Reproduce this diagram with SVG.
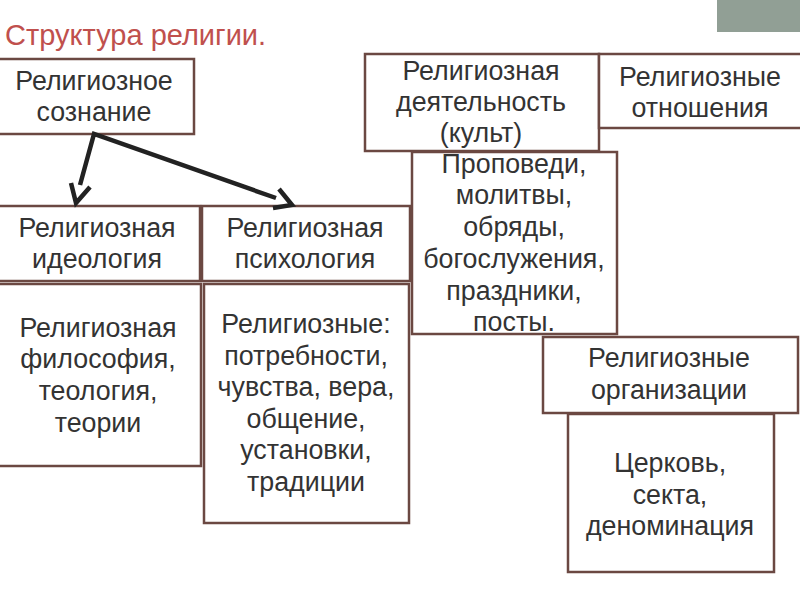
<svg xmlns="http://www.w3.org/2000/svg" width="800" height="600" viewBox="0 0 800 600">
<style>
.box{fill:#fff;stroke:#6b4842;stroke-width:2.5}
.t{font-family:"Liberation Sans",Arial,sans-serif;font-size:26.8px;fill:#333;text-anchor:middle}
.title{font-family:"Liberation Sans",Arial,sans-serif;font-size:29px;fill:#c0504d}
.c{fill:none;stroke:#222;stroke-width:4.5;stroke-linecap:butt;stroke-linejoin:miter}
</style>
<rect width="800" height="600" fill="#fff"/>
<rect x="717" y="0" width="83" height="32" fill="#919f95"/>
<text class="title" x="5" y="45">Структура религии.</text>

<g id="n-soznanie">
<rect class="box" x="-2" y="59" width="196" height="75"/>
<text class="t" x="94" y="90">Религиозное</text>
<text class="t" x="94" y="121">сознание</text>
</g>
<g id="n-ideologia">
<rect class="box" x="-2" y="206" width="202" height="75"/>
<text class="t" x="97" y="237">Религиозная</text>
<text class="t" x="97" y="268">идеология</text>
</g>
<g id="n-psihologia">
<rect class="box" x="202" y="206" width="208" height="75"/>
<text class="t" x="305" y="237">Религиозная</text>
<text class="t" x="305" y="268">психология</text>
</g>
<g id="n-filosofia">
<rect class="box" x="-2" y="284" width="203" height="182"/>
<text class="t" x="98" y="337">Религиозная</text>
<text class="t" x="98" y="368">философия,</text>
<text class="t" x="98" y="400">теология,</text>
<text class="t" x="98" y="432">теории</text>
</g>
<g id="n-potrebnosti">
<rect class="box" x="204" y="284" width="205" height="239"/>
<text class="t" x="306" y="333">Религиозные:</text>
<text class="t" x="306" y="365">потребности,</text>
<text class="t" x="306" y="396">чувства, вера,</text>
<text class="t" x="306" y="428">общение,</text>
<text class="t" x="306" y="459">установки,</text>
<text class="t" x="306" y="491">традиции</text>
</g>
<g id="n-deyatelnost">
<rect class="box" x="365" y="54" width="234" height="97"/>
<text class="t" x="481" y="80">Религиозная</text>
<text class="t" x="481" y="111">деятельность</text>
<text class="t" x="481" y="142">(культ)</text>
</g>
<g id="n-otnoshenia">
<rect class="box" x="599" y="54" width="210" height="74"/>
<text class="t" x="700" y="86">Религиозные</text>
<text class="t" x="700" y="117">отношения</text>
</g>
<g id="n-kult">
<rect class="box" x="412" y="152" width="205" height="182"/>
<text class="t" x="514" y="173">Проповеди,</text>
<text class="t" x="514" y="204">молитвы,</text>
<text class="t" x="514" y="236">обряды,</text>
<text class="t" x="514" y="268">богослужения,</text>
<text class="t" x="514" y="300">праздники,</text>
<text class="t" x="514" y="331">посты.</text>
</g>
<g id="n-organizacii">
<rect class="box" x="543" y="337" width="255" height="76"/>
<text class="t" x="669" y="367">Религиозные</text>
<text class="t" x="669" y="399">организации</text>
</g>
<g id="n-cerkov">
<rect class="box" x="568" y="414" width="206" height="158"/>
<text class="t" x="670" y="472">Церковь,</text>
<text class="t" x="670" y="504">секта,</text>
<text class="t" x="670" y="535">деноминация</text>
</g>

<g id="connectors">
<path class="c" d="M80,185 L94,134 L276,198"/>
<path class="c" d="M71,183 L76,203 L90,187"/>
<path class="c" d="M279,189 L292,205 L273,208"/>
</g>
</svg>
